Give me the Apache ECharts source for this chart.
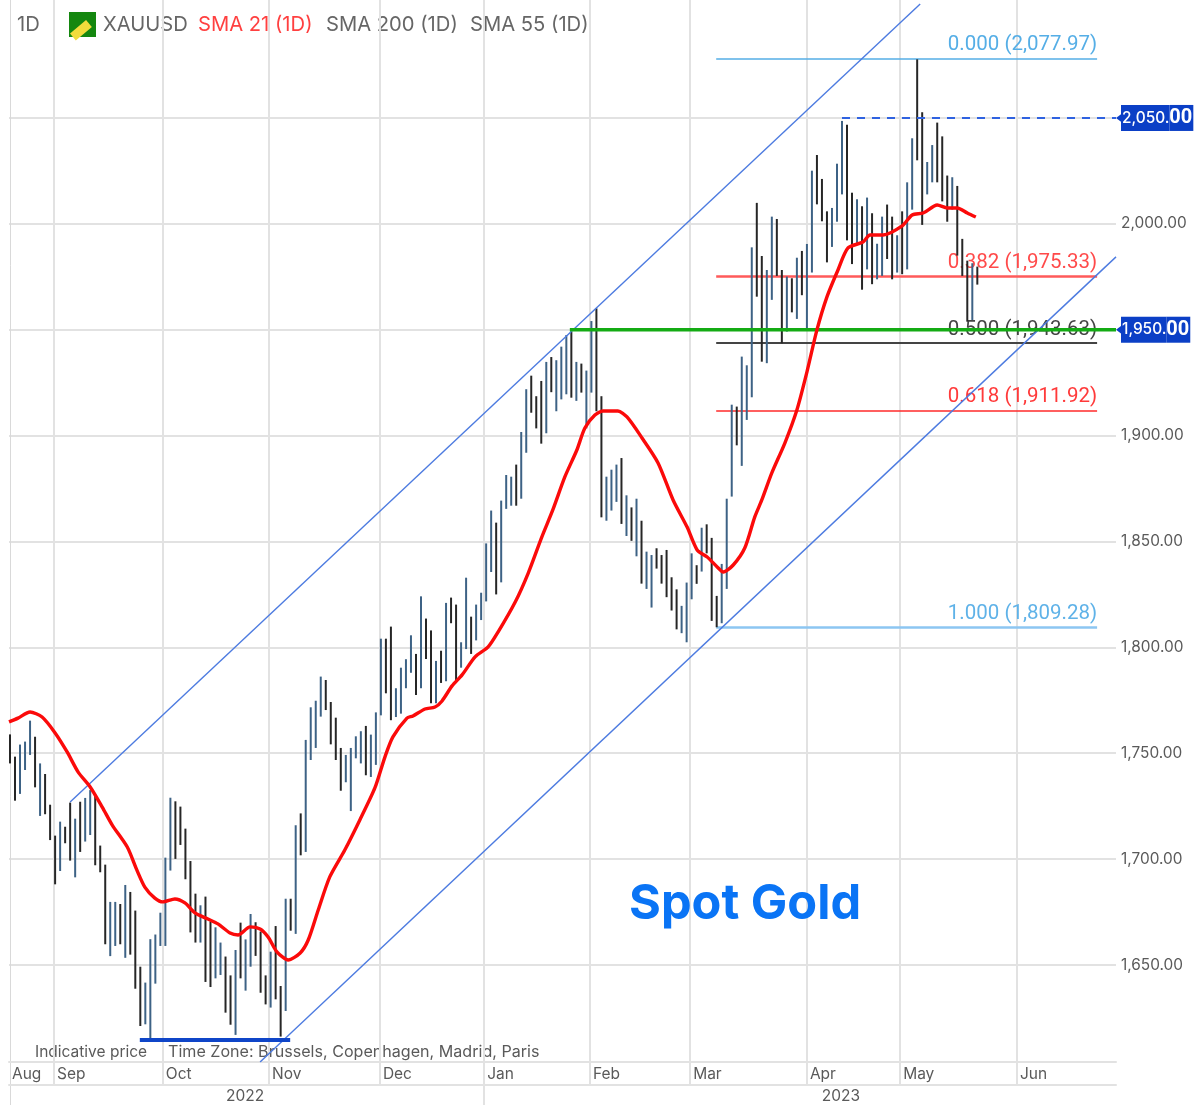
<!DOCTYPE html>
<html>
<head>
<meta charset="utf-8">
<style>html,body{margin:0;padding:0;background:#fff}#c{width:1195px;height:1105px}</style>
<script src="https://cdn.jsdelivr.net/npm/echarts@6/dist/echarts.min.js"></script>
</head>
<body>
<div id="c"></div>
<script>
// Daily high / low of XAUUSD, one entry per trading day
const barHigh = [1758.9,1748.4,1754.1,1755.5,1765.4,1757.8,1745.2,1740.2,1725.7,1711.1,1717.7,1715.3,1726.7,1719.1,1727.1,1728.9,1732.6,1730.3,1706.4,1697.4,
1679.8,1679.8,1678.8,1687.8,1684.5,1675.7,1649.2,1641.7,1662.2,1664.4,1674.7,1700.7,1729.0,1727.3,1724.8,1714.4,1699.1,1683.7,1678.2,1682.3,
1670.5,1667.8,1660.6,1654.0,1645.1,1657.1,1670.0,1662.1,1674.1,1670.2,1665.8,1645.1,1656.3,1668.4,1640.1,1681.3,1681.3,1716.0,1721.6,1756.3,
1771.7,1774.8,1786.2,1784.6,1774.2,1766.8,1752.5,1749.2,1752.5,1758.0,1760.4,1762.9,1758.8,1769.3,1804.1,1804.1,1809.8,1780.7,1790.4,1794.4,
1805.7,1796.9,1824.1,1813.6,1808.0,1793.6,1798.4,1821.0,1823.5,1820.2,1802.4,1832.9,1814.5,1820.2,1825.8,1849.1,1864.6,1858.9,1869.3,1881.4,
1880.6,1886.3,1901.7,1921.9,1928.3,1918.6,1925.8,1934.8,1937.1,1935.6,1942.0,1947.5,1949.1,1934.8,1934.0,1930.7,1954.1,1960.1,1918.6,1880.6,
1883.9,1886.3,1889.4,1871.8,1866.1,1870.2,1859.8,1845.2,1843.6,1846.8,1843.6,1846.0,1833.1,1827.4,1819.6,1830.6,1844.4,1838.8,1856.5,1858.1,
1851.7,1824.3,1839.4,1870.2,1914.6,1913.7,1937.3,1933.2,1988.9,2009.9,1984.8,1978.2,2003.4,2002.3,1978.2,1975.1,1974.3,1984.0,1987.2,1990.5,
2025.1,2032.5,2021.2,2005.9,2007.5,2028.4,2048.6,2046.8,2014.7,2011.6,2008.3,2012.4,2005.0,1990.6,2003.4,2009.1,2003.4,1994.6,2005.9,2019.6,
2040.4,2077.7,2052.7,2029.2,2037.2,2047.8,2041.3,2022.8,2022.0,2017.9,1992.9,1982.6,1981.4,1979.8];
const barLow = [1745.2,1727.6,1730.8,1742.1,1749.2,1733.9,1720.4,1721.2,1709.0,1688.1,1694.4,1707.5,1699.3,1691.4,1703.4,1708.3,1711.4,1697.1,1693.8,1659.8,
1654.2,1659.0,1659.8,1653.4,1654.9,1638.8,1621.2,1622.0,1615.4,1641.2,1659.0,1659.0,1694.6,1700.1,1706.7,1690.5,1665.4,1660.6,1660.6,1642.0,
1639.6,1643.7,1645.3,1627.5,1621.8,1617.0,1643.7,1637.9,1649.2,1654.3,1636.9,1631.4,1629.9,1633.8,1616.2,1628.3,1666.2,1664.7,1701.8,1703.4,
1746.8,1752.5,1767.3,1770.4,1754.2,1746.8,1732.3,1736.3,1722.7,1747.6,1745.2,1739.6,1738.8,1744.5,1767.9,1778.3,1765.6,1767.1,1768.7,1780.7,
1788.0,1777.5,1780.7,1794.5,1773.6,1773.6,1783.2,1784.0,1811.4,1784.0,1790.4,1799.2,1796.9,1803.3,1812.9,1821.7,1835.6,1825.0,1830.7,1865.4,
1866.9,1866.9,1870.2,1891.9,1910.8,1903.4,1896.2,1901.1,1920.5,1911.5,1917.1,1919.5,1917.9,1916.4,1920.3,1903.4,1920.3,1911.5,1861.4,1859.8,
1864.6,1868.7,1858.3,1852.6,1850.3,1843.0,1830.1,1827.6,1818.8,1837.2,1830.1,1823.7,1817.4,1808.5,1806.7,1802.4,1822.7,1830.0,1835.8,1844.4,
1812.5,1809.5,1811.4,1827.6,1871.2,1895.4,1885.7,1907.4,1918.1,1965.6,1934.9,1934.2,1964.1,1975.4,1943.6,1949.1,1958.2,1955.1,1966.3,1949.9,
1977.0,2009.2,2001.2,1981.8,1989.1,2001.0,2013.9,1992.2,1981.0,1990.6,1968.9,1978.5,1971.5,1973.8,1975.4,1983.4,1973.8,1977.0,1976.2,1978.5,
2006.7,2030.0,1999.5,2013.9,2019.6,2019.6,2010.6,2001.0,2006.7,1985.0,1975.4,1953.8,1954.6,1971.3];
// 1 = drawn in blue (up day), 0 = drawn in black (down day)
const barUp = [0,0,1,1,1,0,1,0,0,0,1,0,0,1,0,1,1,0,0,0,
1,1,0,1,0,0,0,1,1,1,1,1,1,0,0,0,0,0,1,0,
0,1,1,0,0,1,0,1,1,0,0,0,1,0,0,1,0,1,0,1,
1,1,1,0,0,0,0,1,1,1,1,0,1,1,1,0,0,1,1,1,
1,0,1,0,0,1,0,1,0,0,1,1,0,1,1,1,1,0,1,1,
1,0,1,1,0,0,0,1,0,1,1,1,0,1,0,1,1,0,0,1,
1,1,0,1,0,1,0,1,1,0,0,0,0,0,1,1,1,0,1,0,
0,0,1,1,1,0,1,1,1,0,0,1,1,0,0,1,0,1,0,1,
1,0,0,0,1,1,1,0,0,1,0,1,0,1,1,0,0,1,0,1,
1,0,0,1,1,0,0,0,1,0,0,0,1,0];

// SMA 21: [trading-day position, price]
const smaDay = [-0.2,1.6,4,6.4,9,11.4,13.6,16,18.4,20.4,23.4,25.3,26.9,28.9,30.5,32.9,34.9,36.9,39.5,41.5,43.9,45.5,47.9,49.9,51.5,53.3,55.5,57.9,59.5,61.5,63.8,66.8,69.8,72.8,74.8,76.4,79.2,80.4,82.8,84.8,86.2,88.2,90.2,92.8,95.4,97.4,100.8,103.4,106.1,108.3,110.7,113.1,114.7,116.7,118.3,121.3,123.1,126.1,129.3,132.3,135.1,137.1,139.1,141.1,142.3,144.3,146.6,148.6,150,152,154.6,157,159,161,163,165.2,167.2,170.2,171.6,174.2,178,180,182.2,185,187,189,191,192.7];
const smaVal = [1764.8,1766.6,1769.5,1767.1,1759.6,1750.6,1741.1,1734.1,1724.6,1716.1,1705.7,1694.9,1686.8,1681.6,1679.8,1681.2,1679.3,1674.6,1671.7,1669.4,1665.1,1664.2,1668.0,1667.0,1663.2,1656.1,1652.4,1655.7,1661.8,1676.0,1691.6,1704.3,1718.5,1733.6,1748.2,1757.7,1766.6,1767.6,1770.9,1771.8,1774.7,1781.8,1787.0,1795.5,1800.2,1807.3,1821.4,1835.1,1852.1,1864.9,1880.5,1893.2,1903.6,1909.7,1911.6,1911.6,1908.8,1898.9,1887.1,1869.6,1856.8,1846.0,1842.7,1838.0,1835.6,1838.9,1846.9,1861.6,1869.6,1882.4,1896.5,1912.1,1930.0,1949.9,1965.5,1978.2,1988.6,1991.4,1994.7,1994.7,1999.0,2004.2,2005.1,2008.9,2007.5,2007.5,2005.1,2003.2];

// Axis labels
const priceTicks = [1650,1700,1750,1800,1850,1900,1950,2000,2050];
const badgeTicks = [1950,2050];
const monthLabels = ['Aug','Sep','Oct','Nov','Dec','Jan','Feb','Mar','Apr','May','Jun'];
const monthStarts = [-0.2,8.78,30.5,51.7,73.8,94.6,115.7,135.7,159,177.6,200.9];
const yearLabels = ['2022','2023'];
const yearCentres = [46.9,165.8];
const yearBreaks = [94.6];

// Fibonacci retracement levels
const fibRatios = ['0.000','0.382','0.500','0.618','1.000'];
const fibPrices = [2077.97,1975.33,1943.63,1911.92,1809.28];
const fibColors = ['#55aee6','#ff5a5a','#444444','#ff2a2a','#8cc6f2'];
const fibTextColors = ['#55aee6','#ff4a4a','#444444','#ff3a3a','#5fb2e8'];
const fibWidths = [1.6,2.5,2,1.6,2.6];
const fibFrom = 140.9, fibTo = 216.9;

const X_MIN = -0.2, X_MAX = 220.67, Y_MIN = 1604.2, Y_MAX = 2105.7;

// Drawn trend lines and levels: [trading-day position, price]
const channelUpper = [[12,1727],[181.6,2103.8]];
const channelLower = [[49.9,1604.2],[220.67,1984.4]];
const greenLevel = [[111.7,1950],[220.67,1950]];
const dashedLevel = [[166,2050],[220.67,2050]];
const supportLevel = [[25.9,1614.6],[55.9,1614.6]];

const GRID = '#e2e2e2', FONT = 'Inter, Roboto, "Liberation Sans", sans-serif', ROBOTO = 'Roboto, "Liberation Sans", sans-serif', TXT = '#5a5a5a', BADGE = '#0b3fc6';
const fmt = v => v.toLocaleString('en-US', {minimumFractionDigits:2, maximumFractionDigits:2});

const bars = barHigh.map((h,i)=>[i, barLow[i], h, barUp[i]]);
const sma = smaDay.map((d,i)=>[d, smaVal[i]]);
const rightLine = {show:true, lineStyle:{color:'#d9d9d9', width:1}};

const fibLines = fibRatios.map((r,i)=>[
  {coord:[fibFrom,fibPrices[i]], lineStyle:{color:fibColors[i], width:fibWidths[i]},
   label:{formatter:r+' ('+fmt(fibPrices[i])+')', color:fibTextColors[i]}},
  {coord:[fibTo,fibPrices[i]]}
]);

const pointer = (price) => ({silent:true,animation:false,label:{show:false},symbol:'triangle',symbolRotate:90,symbolSize:[9,6],
  itemStyle:{color:BADGE},data:[{coord:[X_MAX,price],symbolOffset:[3,0]}]});

const trend = (name,data,color,width,extra,more) => Object.assign({
  name, type:'line', data, symbol:'none', silent:true, z:4,
  lineStyle:Object.assign({color,width},extra||{}), animation:false
},more||{});

const option = {
  animation:false,
  backgroundColor:'#fff',
  textStyle:{fontFamily:FONT},
  grid:[
    {left:9,width:1107,top:0,height:1062,outerBoundsMode:'none'},
    {left:9,width:1107,top:1062,height:23,outerBoundsMode:'none'},
    {left:9,width:1107,top:1085,height:20,outerBoundsMode:'none'}
  ],
  xAxis:[
    {gridIndex:0,type:'value',min:X_MIN,max:X_MAX,
     axisLine:{show:true,onZero:false,lineStyle:{color:GRID,width:2}},
     axisTick:{show:false,customValues:monthStarts.slice(1)},
     axisLabel:{show:false},
     splitLine:{show:true,lineStyle:{color:GRID,width:2}}},
    {gridIndex:1,type:'value',min:X_MIN,max:X_MAX,
     axisLine:{show:true,onZero:false,lineStyle:{color:GRID,width:2}},
     axisTick:{show:false,customValues:monthStarts.slice(1)},
     axisLabel:{inside:true,margin:3,color:TXT,fontSize:15.5,align:'left',padding:[0,0,0,3],fontFamily:FONT,
       customValues:monthStarts,hideOverlap:false,showMinLabel:true,
       formatter:v=>monthLabels[monthStarts.indexOf(v)]||''},
     splitLine:{show:true,lineStyle:{color:GRID,width:2}}},
    {gridIndex:2,type:'value',min:X_MIN,max:X_MAX,
     axisLine:{show:false},
     axisTick:{show:false,customValues:yearBreaks},
     axisLabel:{inside:true,margin:1,color:TXT,fontSize:15.5,align:'center',fontFamily:FONT,
       customValues:yearCentres,
       formatter:v=>yearLabels[yearCentres.indexOf(v)]||''},
     splitLine:{show:true,lineStyle:{color:GRID,width:2}}}
  ],
  yAxis:[
    {gridIndex:0,type:'value',position:'right',min:Y_MIN,max:Y_MAX,
     axisLine:rightLine,
     axisTick:{show:false,customValues:priceTicks},
     splitLine:{show:true,lineStyle:{color:GRID,width:2}},
     axisLabel:{customValues:priceTicks,margin:5,align:'left',color:TXT,fontSize:15.4,fontFamily:FONT,
       formatter:v=>{
         const s=fmt(v);
         if(badgeTicks.indexOf(v)<0) return s;
         return '{p|'+s.slice(0,-2)+'}{q|'+s.slice(-2)+'}';
       },
       rich:{
         p:{color:'#fff',fontSize:15.4,fontWeight:500,fontFamily:FONT,backgroundColor:BADGE,height:26,lineHeight:26,padding:[0,0,0,1]},
         q:{color:'#fff',fontSize:20,fontWeight:'bold',fontFamily:ROBOTO,backgroundColor:BADGE,height:26,lineHeight:26,padding:[0,1,0,0]}
       }}},
    {gridIndex:1,type:'value',position:'right',min:0,max:1,axisLine:rightLine,axisTick:{show:false},axisLabel:{show:false},splitLine:{show:false}},
    {gridIndex:2,type:'value',position:'right',min:0,max:1,axisLine:rightLine,axisTick:{show:false},axisLabel:{show:false},splitLine:{show:false}}
  ],
  series:[
    {name:'Fibonacci',type:'line',data:[],z:2,silent:true,
     markLine:{silent:true,symbol:'none',animation:false,z:2,
       label:{position:'insideEndTop',distance:[0,3],fontSize:20.5,fontFamily:ROBOTO},
       lineStyle:{type:'solid'},data:fibLines}},
    {name:'XAUUSD',type:'custom',data:bars,z:3,silent:true,clip:true,
     encode:{x:0,y:[1,2]},
     renderItem:(p,api)=>{
       const a=api.coord([api.value(0),api.value(1)]);
       const b=api.coord([api.value(0),api.value(2)]);
       return {type:'line',shape:{x1:a[0],y1:a[1],x2:b[0],y2:b[1]},
         style:{stroke:api.value(3)?'#3d6285':'#262626',lineWidth:2}};
     }},
    trend('Channel upper',channelUpper,'#4d7be0',1.4),
    trend('Channel lower',channelLower,'#4d7be0',1.4),
    trend('Resistance',greenLevel,'#14ab14',3.4,null,{markPoint:pointer(1950)}),
    trend('Target',dashedLevel,'#2f62e0',2,{type:[8,7]},{markPoint:pointer(2050)}),
    trend('Support',supportLevel,'#0f45c8',4),
    {name:'SMA 21 (1D)',type:'line',data:sma,symbol:'none',smooth:0.25,silent:true,z:5,
     lineStyle:{color:'#fb0a0a',width:3.4}}
  ],
  graphic:[
    {type:'text',left:17,top:15,style:{text:'1D',fill:'#666',font:'20.2px '+FONT}},
    {type:'rect',left:69,top:12,shape:{width:27,height:25},style:{fill:'#14870f'}},
    {type:'rect',left:70,top:20,rotation:0.7,originX:0,originY:0,shape:{width:21,height:9},style:{fill:'#f2dc3c'}},
    {type:'text',left:103,top:15,style:{text:'XAUUSD',fill:'#666',font:'20.2px '+FONT}},
    {type:'text',left:198,top:15,style:{text:'SMA 21 (1D)',fill:'#ff4040',font:'20.2px '+FONT}},
    {type:'text',left:326,top:15,style:{text:'SMA 200 (1D)',fill:'#666',font:'20.2px '+FONT}},
    {type:'text',left:470,top:15,style:{text:'SMA 55 (1D)',fill:'#666',font:'20.2px '+FONT}},
    {type:'text',left:35,top:1044,style:{text:'Indicative price',fill:TXT,font:'15.5px '+FONT}},
    {type:'text',left:168,top:1044,style:{text:'Time Zone: Brussels, Copenhagen, Madrid, Paris',fill:TXT,font:'16.1px '+FONT}},
    {type:'text',left:629,top:880,z:10,style:{text:'Spot Gold',fill:'#0a74f5',font:'bold 48.7px '+FONT}}
  ]
};
echarts.init(document.getElementById('c'),null,{renderer:'canvas'}).setOption(option);
</script>
</body>
</html>
